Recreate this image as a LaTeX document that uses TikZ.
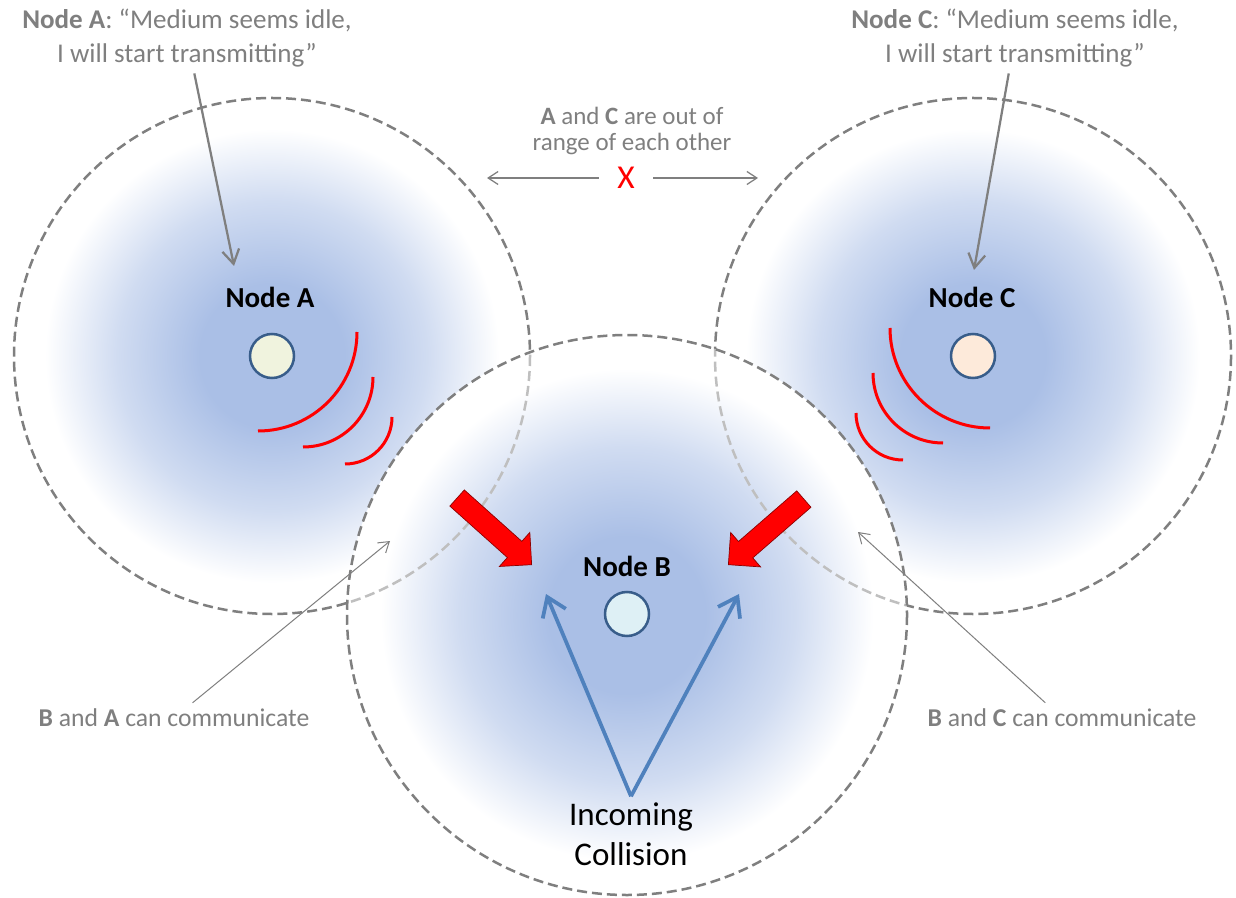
\documentclass[tikz,border=0pt]{standalone}
\usepackage{fontspec}
\setmainfont{Carlito}
\usetikzlibrary{arrows.meta,shapes.arrows}

\definecolor{capgray}{RGB}{127,127,127}
\definecolor{rangeblue}{RGB}{170,191,230}
\definecolor{dotline}{RGB}{56,93,138}
\definecolor{collblue}{RGB}{79,129,189}
\definecolor{dotA}{RGB}{240,243,222}
\definecolor{dotB}{RGB}{222,240,245}
\definecolor{dotC}{RGB}{253,234,218}

\pgfdeclareradialshading{rangeglow}{\pgfpoint{0bp}{0bp}}{color(0bp)=(rangeblue); color(7bp)=(rangeblue); color(15bp)=(rangeblue!55!white); color(22bp)=(white); color(50bp)=(white)}

\begin{document}
\begin{tikzpicture}[x=0.2mm, y=-0.2mm,
  coverage/.style={draw=capgray, dash pattern=on 2mm off 1mm, line width=0.5mm},
  wave/.style={draw=red, line width=0.6mm},
  station/.style={circle, draw=dotline, line width=0.5mm, minimum size=8.8mm, inner sep=0pt},
  stationlabel/.style={font=\fontsize{16.5}{20}\selectfont\bfseries},
  note/.style={text=capgray, align=center},
  pointer/.style={draw=capgray, line width=0.45mm, -{Straight Barb[length=2.8mm,width=3.4mm]}},
  thinpointer/.style={draw=capgray, line width=0.2mm, -{Straight Barb[length=2mm,width=2.6mm]}},
  hit/.style={single arrow, draw=red!55!black, line width=0.4pt, fill=red, inner xsep=0pt, inner ysep=2.1mm,
    minimum height=20mm, single arrow head extend=2.4mm, anchor=tip},
  incoming/.style={draw=collblue, line width=0.75mm, -{Straight Barb[length=3.6mm,width=5mm]}}
]
\useasboundingbox (0,0) rectangle (1236,898);
\def\R{258} \def\RB{280}
% coverage of A and C
\shade[shading=rangeglow] (272,356) circle[radius=\R];
\shade[shading=rangeglow] (973,356) circle[radius=\R];
\draw[coverage] (272,356) circle[radius=\R];
\draw[coverage] (973,356) circle[radius=\R];
% coverage of B lies on top, the other borders show through faintly
\shade[shading=rangeglow] (627,615) circle[radius=\RB];
\begin{scope}
  \clip (627,615) circle[radius=\RB];
  \draw[coverage, draw=capgray!50] (272,356) circle[radius=\R];
  \draw[coverage, draw=capgray!50] (973,356) circle[radius=\R];
\end{scope}
\draw[coverage] (627,615) circle[radius=\RB];

% signal waves
\draw[wave] (357,332) arc[start angle=0, end angle=90, radius=99];
\draw[wave] (373,377) arc[start angle=0, end angle=90, radius=70];
\draw[wave] (392,417) arc[start angle=0, end angle=90, radius=47];
\draw[wave] (890,328) arc[start angle=180, end angle=90, radius=100];
\draw[wave] (873,373) arc[start angle=180, end angle=90, radius=70];
\draw[wave] (856,413) arc[start angle=180, end angle=90, radius=47];

% stations
\node[station, fill=dotA] (nodeA) at (272,356) {};
\node[station, fill=dotC] (nodeC) at (973,356) {};
\node[station, fill=dotB] (nodeB) at (627,614) {};
\node[stationlabel] (labA) at (270,297) {Node A};
\node[stationlabel] (labC) at (972,297) {Node C};
\node[stationlabel] (labB) at (627,566) {Node B};

% what A and C think
\node[note, font=\fontsize{15.4}{19.5}\selectfont] (capA) at (187,38)
  {\textbf{Node A}: “Medium seems idle,\\ I will start transmitting”};
\node[note, font=\fontsize{15.4}{19.5}\selectfont] (capC) at (1015,38)
  {\textbf{Node C}: “Medium seems idle,\\ I will start transmitting”};
\coordinate (ptA) at (234,266);
\coordinate (ptC) at (974,270);
\draw[pointer] (capA) -- (ptA);
\draw[pointer] (capC) -- (ptC);

% out of range
\node[note, font=\fontsize{14.2}{14.8}\selectfont] (outofrange) at (632,131)
  {\textbf{A} and \textbf{C} are out of\\ range of each other};
\node[text=red, font=\fontsize{19}{20}\selectfont, inner xsep=3.6mm] (cross) at (626,178) {X};
\coordinate (farA) at (487,178);
\coordinate (farC) at (758,178);
\draw[thinpointer, line width=0.25mm] (cross) -- (farA);
\draw[thinpointer, line width=0.25mm] (cross) -- (farC);

% overlaps
\node[note, font=\fontsize{14.6}{16}\selectfont] (commBA) at (174,718)
  {\textbf{B} and \textbf{A} can communicate};
\node[note, font=\fontsize{14.6}{16}\selectfont] (commBC) at (1062,718)
  {\textbf{B} and \textbf{C} can communicate};
\coordinate (tipBA) at (390,541);
\coordinate (tipBC) at (858,532);
\draw[thinpointer] (commBA) -- (tipBA);
\draw[thinpointer] (commBC) -- (tipBC);

% both transmissions reach B
\node[hit, rotate=-41.8] (hitA) at (532,565) {};
\node[hit, rotate=-139] (hitC) at (728,565) {};
\node[font=\fontsize{18.8}{22.8}\selectfont, align=center] (collision) at (631,834) {Incoming\\Collision};
\coordinate (collL) at (546,594);
\coordinate (collR) at (739,594);
\draw[incoming] (collision.north) -- (collL);
\draw[incoming] (collision.north) -- (collR);
\end{tikzpicture}
\end{document}
